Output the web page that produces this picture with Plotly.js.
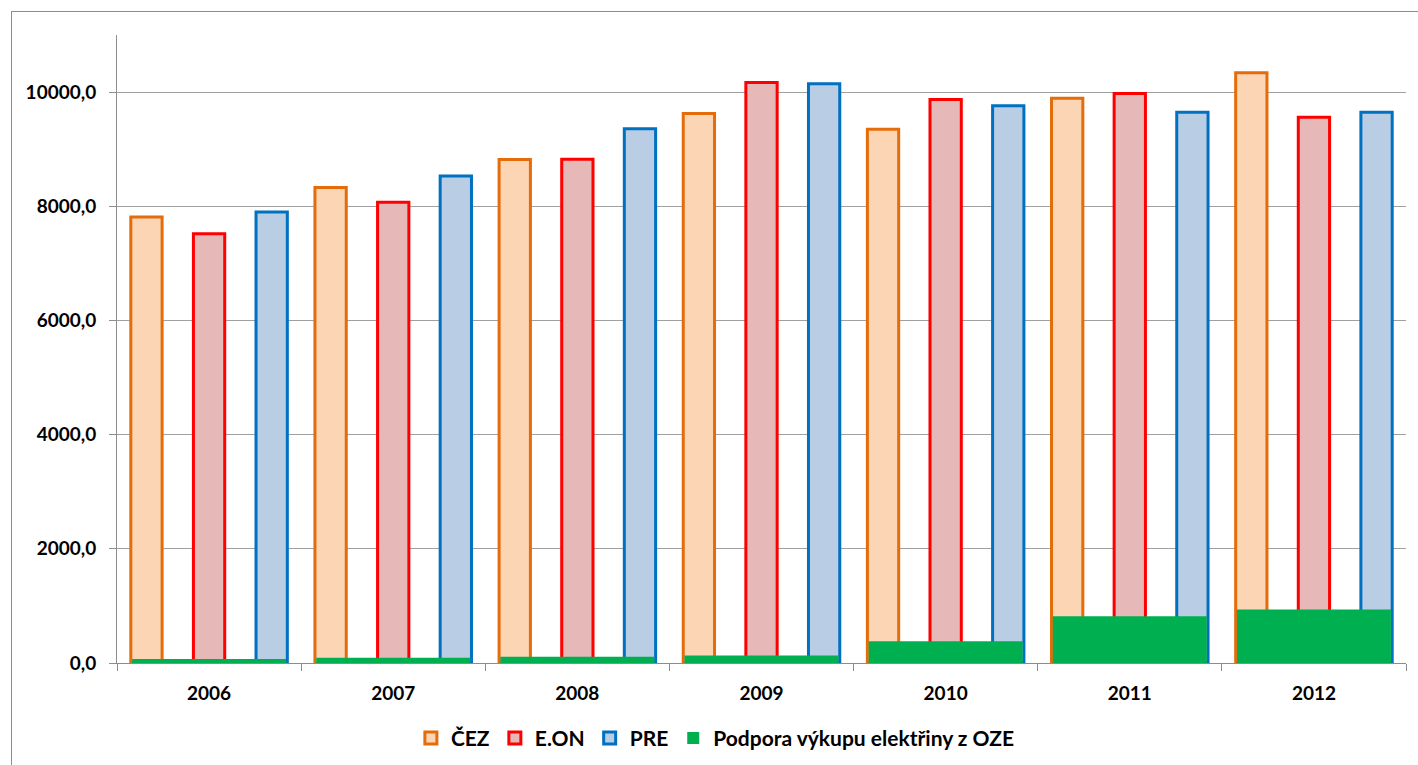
<!DOCTYPE html>
<html>
<head>
<meta charset="utf-8">
<script src="https://cdn.plot.ly/plotly-3.0.1.min.js"></script>
<style>
  html, body { margin: 0; padding: 0; background: #ffffff; overflow: hidden; }
  #wrap { position: relative; width: 1418px; height: 765px; }
  #chart { position: absolute; left: 0; top: 0; width: 1418px; height: 765px; }
  #frame { position: absolute; left: 11px; top: 11px; width: 1500px; height: 900px;
           border: 1px solid #8c8c8c; box-sizing: border-box; pointer-events: none; }
</style>
</head>
<body>
<div id="wrap">
  <div id="chart"></div>
  <div id="frame"></div>
</div>
<script>
const years = ["2006", "2007", "2008", "2009", "2010", "2011", "2012"];
const cez   = [7810, 8330, 8820, 9625, 9350, 9890, 10340];
const eon   = [7520, 8070, 8825, 10170, 9870, 9975, 9560];
const pre   = [7900, 8530, 9360, 10145, 9760, 9645, 9645];
const oze   = [70, 90, 110, 130, 380, 820, 935];
const seriesNames = ["ČEZ", "E.ON", "PRE", "Podpora výkupu elektřiny z OZE"];

const font = "Lato, 'Open Sans', sans-serif";

const traces = [
  { type: "bar", name: seriesNames[0], x: years, y: cez, offset: -0.425, width: 0.17,
    marker: { color: "#FCD5B5", line: { color: "#E46C0A", width: 3 } } },
  { type: "bar", name: seriesNames[1], x: years, y: eon, offset: -0.085, width: 0.17,
    marker: { color: "#E6B9B8", line: { color: "#FF0000", width: 3 } } },
  { type: "bar", name: seriesNames[2], x: years, y: pre, offset: 0.255, width: 0.17,
    marker: { color: "#B9CDE5", line: { color: "#0070C0", width: 3 } } },
  { type: "bar", name: seriesNames[3], x: years, y: oze, offset: -0.418, width: 0.836,
    marker: { color: "#00B050", line: { width: 0 } } }
];

const layout = {
  width: 1418, height: 765,
  margin: { l: 117, r: 12, t: 35, b: 102, pad: 0, autoexpand: false },
  paper_bgcolor: "rgba(0,0,0,0)",
  plot_bgcolor: "#ffffff",
  barmode: "overlay",
  separators: ", ",
  showlegend: true,
  font: { family: font, size: 18, color: "#000000", weight: "bold" },
  xaxis: {
    type: "category",
    automargin: false,
    showgrid: false,
    showline: true, linecolor: "#8c8c8c", linewidth: 1,
    ticks: "outside", tickson: "boundaries", ticklen: 7, tickcolor: "#8c8c8c", tickwidth: 1,
    tickfont: { family: font, size: 19, color: "#000000", weight: "bold" },
    ticklabelstandoff: 13,
    zeroline: false, fixedrange: true
  },
  yaxis: {
    automargin: false,
    range: [0, 11000],
    tickvals: [0, 2000, 4000, 6000, 8000, 10000],
    tickformat: ".1f",
    showgrid: true, gridcolor: "#a0a0a0", gridwidth: 1,
    showline: true, linecolor: "#8c8c8c", linewidth: 1,
    ticks: "outside", ticklen: 7, tickcolor: "#8c8c8c", tickwidth: 1,
    tickfont: { family: font, size: 19, color: "#000000", weight: "bold" },
    ticklabelstandoff: 9,
    zeroline: false, fixedrange: true
  },
  legend: {
    orientation: "h",
    x: 0.228, xanchor: "left",
    y: -0.12, yanchor: "middle",
    font: { family: font, size: 21, color: "#000000", weight: "bold" },
    itemwidth: 30,
    traceorder: "normal",
    bgcolor: "rgba(0,0,0,0)"
  }
};

Plotly.newPlot("chart", traces, layout, { displayModeBar: false, staticPlot: true });
</script>
</body>
</html>
